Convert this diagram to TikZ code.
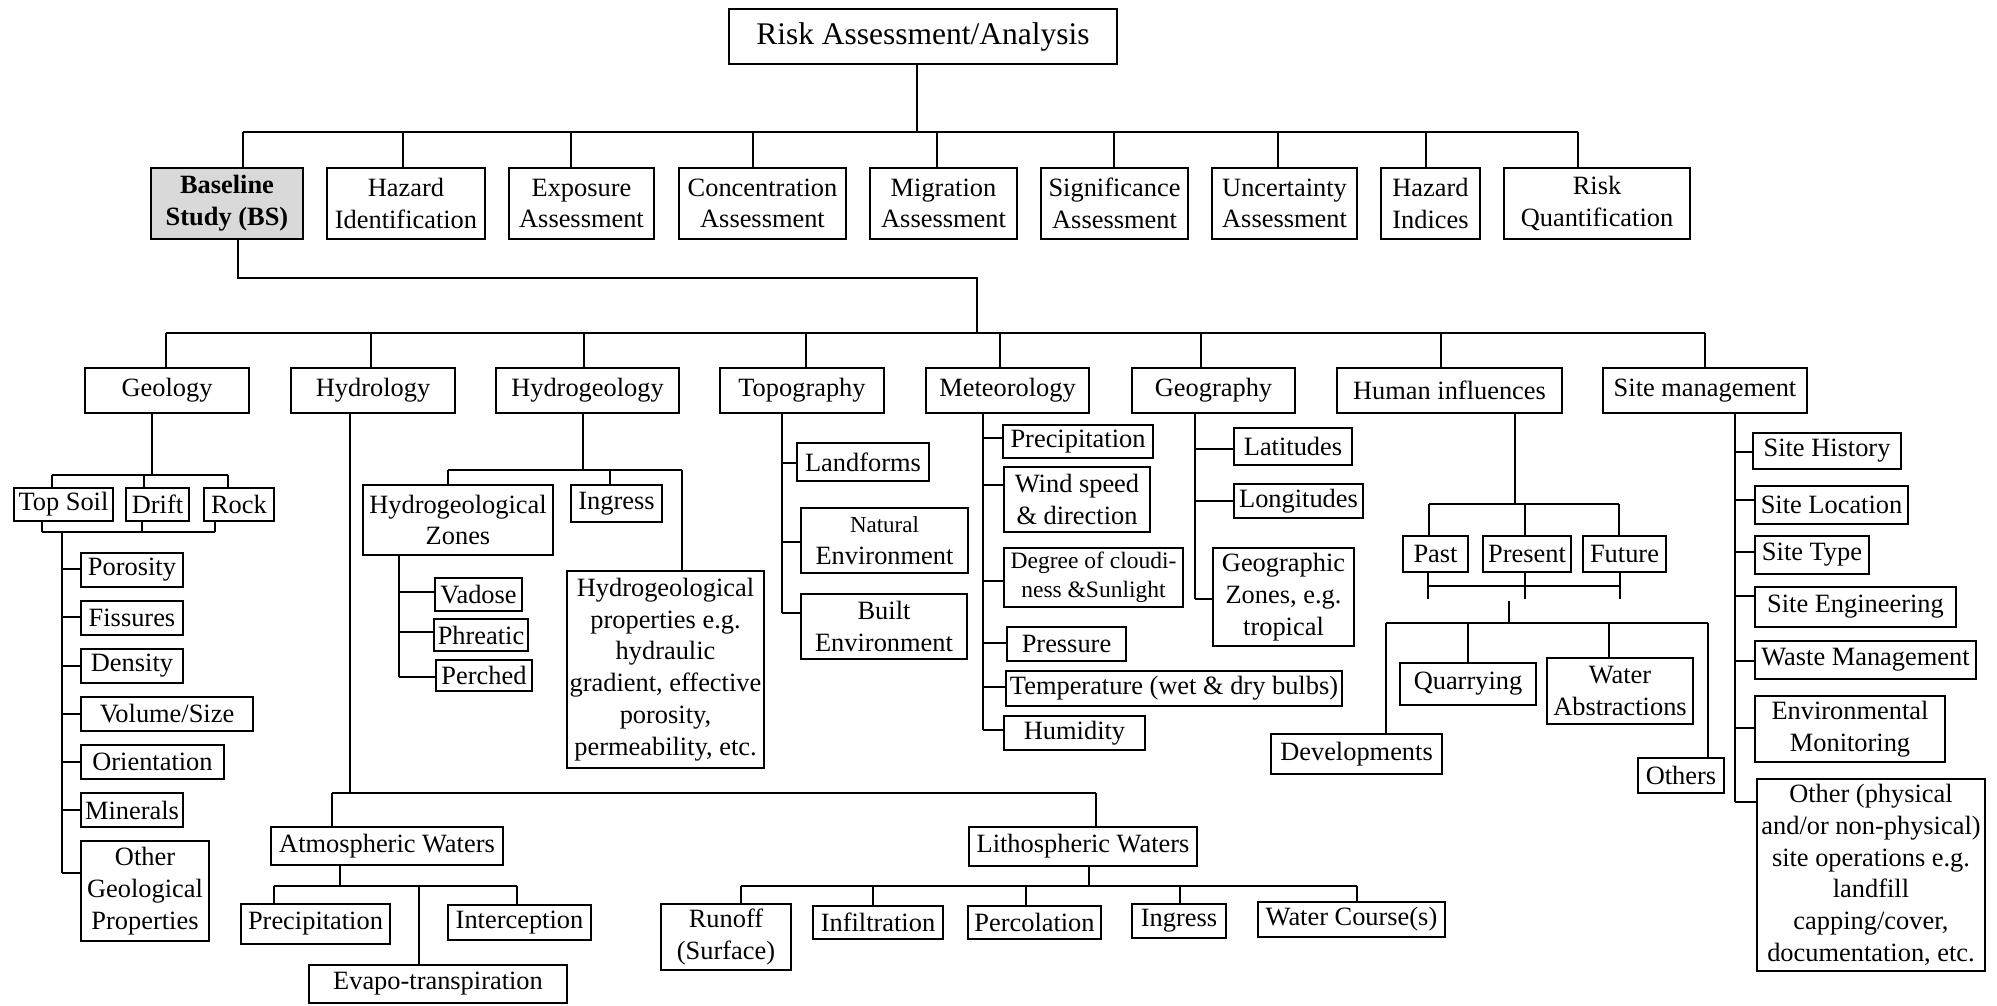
\documentclass[tikz,border=0pt]{standalone}
\usepackage{fontspec}
\setmainfont{Liberation Serif}
\definecolor{bsgray}{RGB}{217,217,217}
\tikzset{
 box/.style={draw,line width=2.4pt,inner sep=0pt,align=center,font=\fontsize{26.4}{31.7}\selectfont},
 conn/.style={line width=2.2pt},
}
% box: [opts]{name}{x1}{y1}{x2}{y2}{text}
\newcommand\bx[7][]{\node[box,minimum width={(#5)-(#3)},minimum height={(#6)-(#4)},#1] (#2) at ({((#3)+(#5))/2},{((#4)+(#6))/2}) {#7};}
\newcommand\dropto[3]{\draw[conn] (#1,#2) -- (#1,0 |- #3.north);}
\newcommand\upfrom[3]{\draw[conn] (#1,0 |- #2.south) -- (#1,#3);}
\newcommand\stubto[3]{\draw[conn] (#1,#3) -- (#2.west |- 0,#3);}
\newcommand\hbus[3]{\draw[conn] (#1,#3) -- (#2,#3);}
\begin{document}
\begin{tikzpicture}[x=1pt,y=-1pt]
\useasboundingbox (0,0) rectangle (1997,1005);
% ---- top level
\bx[font=\fontsize{31.5}{36}\selectfont]{title}{729}{9}{1117}{64}{Risk Assessment/Analysis}
\bx[fill=bsgray,font=\fontsize{26.4}{31.7}\selectfont\bfseries]{bs}{151}{168}{303}{239}{Baseline\\Study (BS)}
\bx{hid}{327}{168}{485}{239}{Hazard\\Identification}
\bx{expo}{509}{168}{654}{239}{Exposure\\Assessment}
\bx{conc}{679}{168}{846}{239}{Concentration\\Assessment}
\bx{migr}{870}{168}{1017}{239}{Migration\\Assessment}
\bx{sig}{1041}{168}{1188}{239}{Significance\\Assessment}
\bx{unc}{1212}{168}{1357}{239}{Uncertainty\\Assessment}
\bx{hind}{1381}{168}{1480}{239}{Hazard\\Indices}
\bx{rq}{1504}{168}{1690}{239}{Risk\\Quantification}
\draw[conn] (917,0 |- title.south) -- (917,132);
\hbus{243}{1578}{132}
\foreach \x/\n in {243/bs,403/hid,571/expo,753/conc,937/migr,1114/sig,1278/unc,1426/hind,1578/rq}{\dropto{\x}{132}{\n}}
\draw[conn] (238,0 |- bs.south) -- (238,278) -- (977,278) -- (977,333);
% ---- second level
\bx{geol}{85}{368}{249}{413}{Geology}
\bx{hydl}{291}{368}{455}{413}{Hydrology}
\bx{hydg}{496}{368}{679}{413}{Hydrogeology}
\bx{topo}{720}{368}{884}{413}{Topography}
\bx{met}{926}{368}{1089}{413}{Meteorology}
\bx{geog}{1132}{368}{1295}{413}{Geography}
\bx{hum}{1337}{368}{1562}{413}{Human influences}
\bx{site}{1603}{368}{1807}{413}{Site management}
\hbus{166}{1705}{333}
\foreach \x/\n in {166/geol,371/hydl,584/hydg,806/topo,1000/met,1201/geog,1441/hum,1705/site}{\dropto{\x}{333}{\n}}
% ---- geology
\upfrom{152}{geol}{475}
\hbus{52}{228}{475}
\bx{ts}{14}{488}{113}{521}{Top Soil}
\bx{drift}{126}{488}{189}{521}{Drift}
\bx{rock}{204}{488}{274}{521}{Rock}
\dropto{52}{475}{ts}\dropto{144}{475}{drift}\dropto{228}{475}{rock}
\upfrom{42}{ts}{532}\upfrom{142}{drift}{532}\upfrom{215}{rock}{532}
\hbus{42}{215}{532}
\draw[conn] (62,532) -- (62,873);
\bx{poro}{81}{553}{183}{587}{Porosity}
\bx{fiss}{81}{601}{183}{635}{Fissures}
\bx{dens}{81}{649}{183}{683}{Density}
\bx{vol}{81}{697}{253}{731}{Volume/Size}
\bx{ori}{81}{745}{224}{779}{Orientation}
\bx{mins}{81}{793}{183}{827}{Minerals}
\bx{ogp}{81}{841}{209}{941}{Other\\Geological\\Properties}
\stubto{62}{poro}{569}\stubto{62}{fiss}{617}\stubto{62}{dens}{666}\stubto{62}{vol}{714}
\stubto{62}{ori}{762}\stubto{62}{mins}{810}\stubto{62}{ogp}{873}
% ---- hydrology
\upfrom{350}{hydl}{793}
\hbus{332}{1096}{793}
\bx{aw}{271}{827}{503}{865}{Atmospheric Waters}
\bx{lw}{969}{827}{1197}{866}{Lithospheric Waters}
\dropto{332}{793}{aw}\dropto{1096}{793}{lw}
\upfrom{340}{aw}{886}
\hbus{274}{517}{886}
\bx{aprec}{241}{904}{390}{944}{Precipitation}
\bx{evap}{309}{965}{567}{1003}{Evapo-transpiration}
\bx{intc}{448}{905}{591}{940}{Interception}
\dropto{274}{886}{aprec}\dropto{419}{886}{evap}\dropto{517}{886}{intc}
\upfrom{1089}{lw}{886}
\hbus{741}{1357}{886}
\bx{runoff}{661}{904}{791}{970}{Runoff\\(Surface)}
\bx{infil}{813}{906}{943}{939}{Infiltration}
\bx{perc}{968}{906}{1101}{939}{Percolation}
\bx{lingr}{1132}{904}{1226}{938}{Ingress}
\bx{wc}{1258}{902}{1445}{937}{Water Course(s)}
\dropto{741}{886}{runoff}\dropto{873}{886}{infil}\dropto{1026}{886}{perc}
\dropto{1180}{886}{lingr}\dropto{1357}{886}{wc}
% ---- hydrogeology
\upfrom{583}{hydg}{470}
\hbus{448}{682}{470}
\bx{hz}{363}{485}{553}{555}{Hydrogeological\\Zones}
\bx{hingr}{571}{485}{662}{522}{Ingress}
\bx{hprop}{567}{571}{764}{768}{Hydrogeological\\properties e.g.\\hydraulic\\gradient, effective\\porosity,\\permeability, etc.}
\dropto{448}{470}{hz}\dropto{610}{470}{hingr}\dropto{682}{470}{hprop}
\upfrom{399}{hz}{677}
\bx{vad}{435}{578}{522}{611}{Vadose}
\bx{phr}{434}{619}{528}{651}{Phreatic}
\bx{perch}{436}{660}{532}{691}{Perched}
\stubto{399}{vad}{592}\stubto{399}{phr}{632}\stubto{399}{perch}{677}
% ---- topography
\upfrom{782}{topo}{613}
\bx{land}{797}{443}{929}{481}{Landforms}
\bx{nat}{801}{508}{968}{573}{{\fontsize{23}{28}\selectfont Natural}\\Environment}
\bx{built}{801}{594}{967}{659}{Built\\Environment}
\stubto{782}{land}{463}\stubto{782}{nat}{542}\stubto{782}{built}{613}
% ---- meteorology
\upfrom{983}{met}{730}
\bx{mprec}{1003}{425}{1153}{458}{Precipitation}
\bx{wind}{1004}{467}{1150}{532}{Wind speed\\\& direction}
\bx[font=\fontsize{23.5}{28.5}\selectfont]{cloud}{1004}{548}{1183}{607}{Degree of cloudi-\\ness \&Sunlight}
\bx{press}{1007}{627}{1126}{661}{Pressure}
\bx{temp}{1006}{671}{1342}{706}{Temperature (wet \& dry bulbs)}
\bx{humid}{1004}{716}{1145}{750}{Humidity}
\stubto{983}{mprec}{438}\stubto{983}{wind}{485}\stubto{983}{cloud}{581}
\stubto{983}{press}{643}\stubto{983}{temp}{687}\stubto{983}{humid}{730}
% ---- geography
\upfrom{1195}{geog}{599}
\bx{lat}{1234}{428}{1352}{465}{Latitudes}
\bx{lon}{1234}{484}{1363}{518}{Longitudes}
\bx{gz}{1213}{548}{1354}{646}{Geographic\\Zones, e.g.\\tropical}
\stubto{1195}{lat}{449}\stubto{1195}{lon}{501}\stubto{1195}{gz}{599}
% ---- human influences
\upfrom{1515}{hum}{504}
\hbus{1429}{1619}{504}
\bx{past}{1403}{536}{1468}{572}{Past}
\bx{prsnt}{1483}{536}{1571}{572}{Present}
\bx{fut}{1583}{536}{1666}{572}{Future}
\dropto{1429}{504}{past}\dropto{1525}{504}{prsnt}\dropto{1619}{504}{fut}
\upfrom{1428}{past}{599}\upfrom{1525}{prsnt}{599}\upfrom{1620}{fut}{599}
\hbus{1428}{1620}{586}
\draw[conn] (1509,601) -- (1509,623);
\hbus{1386}{1708}{623}
\bx{dev}{1271}{734}{1442}{774}{Developments}
\bx{quar}{1400}{663}{1536}{705}{Quarrying}
\bx{wabs}{1547}{658}{1693}{724}{Water\\Abstractions}
\bx{oth}{1638}{758}{1724}{793}{Others}
\dropto{1386}{623}{dev}\dropto{1468}{623}{quar}\dropto{1609}{623}{wabs}\dropto{1708}{623}{oth}
% ---- site management
\upfrom{1735}{site}{802}
\bx{sh}{1753}{433}{1901}{469}{Site History}
\bx{sl}{1755}{486}{1908}{524}{Site Location}
\bx{stype}{1755}{536}{1869}{574}{Site Type}
\bx{seng}{1755}{587}{1956}{627}{Site Engineering}
\bx{wm}{1755}{641}{1976}{679}{Waste Management}
\bx{em}{1755}{696}{1945}{762}{Environmental\\Monitoring}
\bx{oth2}{1757}{779}{1985}{971}{Other (physical\\and/or non-physical)\\site operations e.g.\\landfill\\capping/cover,\\documentation, etc.}
\stubto{1735}{sh}{452}\stubto{1735}{sl}{500}\stubto{1735}{stype}{552}\stubto{1735}{seng}{596}
\stubto{1735}{wm}{661}\stubto{1735}{em}{728}\stubto{1735}{oth2}{802}
\end{tikzpicture}
\end{document}
